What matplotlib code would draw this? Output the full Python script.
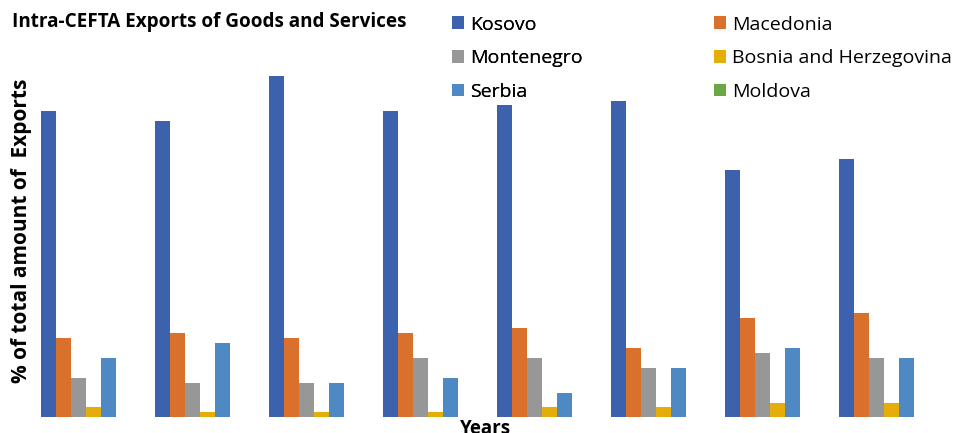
import numpy as np
import matplotlib.pyplot as plt

# values (share of total exports, %)
groups = np.arange(8)
countries = ['Kosovo', 'Macedonia', 'Montenegro',
             'Bosnia and Herzegovina', 'Serbia', 'Moldova']
kosovo = [61.4, 59.4, 68.4, 61.4, 62.6, 63.4, 49.4, 51.6]
macedonia = [15.8, 16.8, 15.8, 16.8, 17.8, 13.8, 19.8, 20.8]
montenegro = [7.8, 6.8, 6.8, 11.8, 11.8, 9.8, 12.8, 11.8]
bosnia = [2.0, 1.0, 1.0, 1.0, 2.0, 2.0, 2.8, 2.8]
serbia = [11.8, 14.8, 6.8, 7.8, 4.8, 9.8, 13.8, 11.8]
moldova = [0, 0, 0, 0, 0, 0, 0, 0]
series = [kosovo, macedonia, montenegro, bosnia, serbia, moldova]
colors = ['#3c61ad', '#d9702c', '#979797', '#e5ad0a', '#4f89c3', '#6aa843']

plt.rcParams['font.family'] = ['Open Sans', 'DejaVu Sans']

fig = plt.figure(figsize=(9.59, 4.33), dpi=100)
ax = fig.add_axes([0.030, 0.037, 0.951, 0.823])

w = 0.1316
for i, (vals, c) in enumerate(zip(series, colors)):
    ax.bar(groups - 2.5 * w + i * w, vals, width=w, color=c, label=countries[i])

ax.set_xlim(-0.5, 7.5)
ax.set_ylim(0, 71.4)
ax.set_xticks([])
ax.set_yticks([])
for s in ax.spines.values():
    s.set_visible(False)

fig.text(0.013, 0.950, 'Intra-CEFTA Exports of Goods and Services',
         fontsize=13.6, fontweight='bold', va='center', ha='left')
fig.text(0.022, 0.4665, '% of total amount of  Exports', rotation=90,
         fontsize=15, fontweight='bold', va='center', ha='center')
fig.text(0.506, -0.015, 'Years', fontsize=13.5, fontweight='bold',
         va='bottom', ha='center')

# legend laid out row by row like the original (two separate columns)
handles, labels = ax.get_legend_handles_labels()
leg_kw = dict(loc='upper left', frameon=False, fontsize=14,
              handlelength=0.62, handleheight=0.62, handletextpad=0.3,
              labelspacing=0.8, borderpad=0, borderaxespad=0)
leg1 = fig.legend([handles[k] for k in (0, 2, 4)], [labels[k] for k in (0, 2, 4)],
                  bbox_to_anchor=(452 / 959, 0.964), **leg_kw)
fig.add_artist(leg1)
fig.legend([handles[k] for k in (1, 3, 5)], [labels[k] for k in (1, 3, 5)],
           bbox_to_anchor=(714 / 959, 0.964), **leg_kw)

fig.savefig('out.png', dpi=100)
